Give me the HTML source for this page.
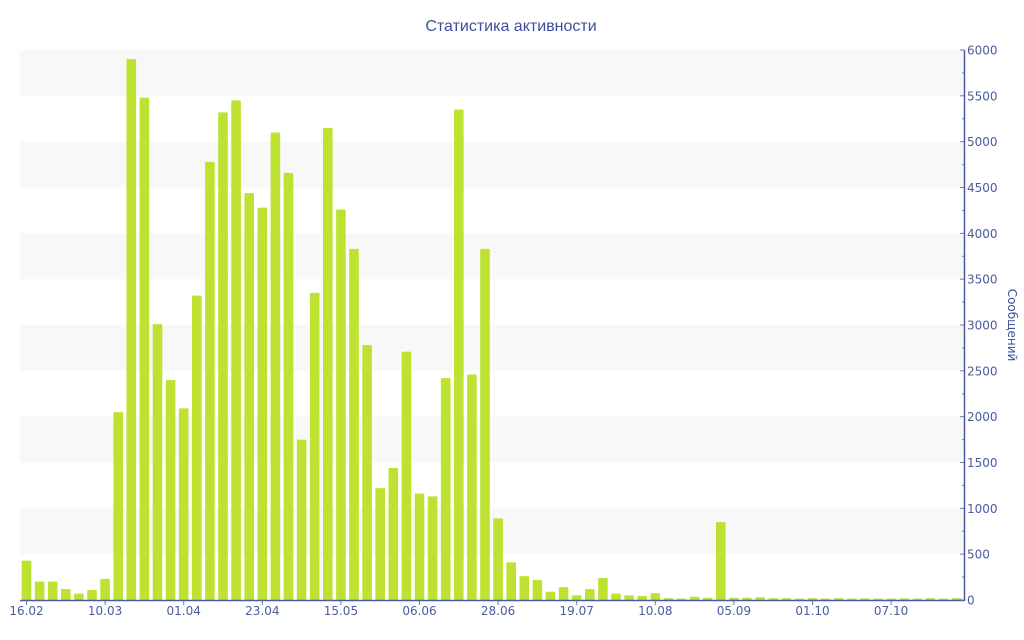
<!DOCTYPE html>
<html><head><meta charset="utf-8"><style>
html,body{margin:0;padding:0;background:#fff;}
svg{display:block;font-family:"Liberation Sans","DejaVu Sans",sans-serif;}
.t{font-family:"DejaVu Sans","Liberation Sans",sans-serif;}
</style></head><body>
<svg id="c" width="1024" height="640" viewBox="0 0 1024 640" xmlns="http://www.w3.org/2000/svg">
<text x="511" y="31" text-anchor="middle" font-size="16" fill="#3d4f9c">Статистика активности</text>
<text class="t" transform="translate(1008,325) rotate(90)" text-anchor="middle" font-size="12" fill="#3d4f9c">Сообщений</text>
</svg>
<script>
var s=document.getElementById('c'),ns='http://www.w3.org/2000/svg';
function el(t,a,txt){var e=document.createElementNS(ns,t);for(var k in a)e.setAttribute(k,a[k]);if(txt)e.textContent=txt;s.appendChild(e);return e;}
function Y(v){return 600-v*550/6000;}
for(var b=500;b<6000;b+=1000){el('rect',{x:20,y:Y(b+500),width:944,height:550/12,fill:'#f8f8f8'});}
var d=[430,200,200,120,70,110,230,2050,5900,5480,3010,2400,2090,3320,4780,5320,5450,4440,4280,5100,4660,1750,3350,5150,4260,3830,2780,1220,1440,2710,1160,1130,2420,5350,2460,3830,890,410,260,220,90,140,50,120,240,70,50,45,75,20,15,35,25,850,25,25,30,20,20,15,20,15,20,15,18,15,15,18,15,20,15,20];
for(var i=0;i<d.length;i++){var x=26.5+13.1*i;el('rect',{x:x-4.8,y:Y(d[i]),width:9.6,height:600-Y(d[i]),fill:'#bde232',rx:1});}
el('line',{x1:20,y1:600.5,x2:964,y2:600.5,stroke:'#4a5ca0','stroke-width':1.5});
el('line',{x1:964.5,y1:50,x2:964.5,y2:601,stroke:'#4a5ca0','stroke-width':1.5});
for(var v=0;v<=6000;v+=250){var y=Y(v);var maj=v%500==0;el('line',{x1:maj?960:962,y1:y,x2:964,y2:y,stroke:'#6a78b0'});if(maj)el('text',{'class':'t',x:967,y:y+4.5,'font-size':12,fill:'#4a5ca0'},String(v));}
var L=['16.02','10.03','01.04','23.04','15.05','06.06','28.06','19.07','10.08','05.09','01.10','07.10'];
for(var j=0;j<L.length;j++){var x=26.5+13.1*6*j;el('line',{x1:x,y1:601,x2:x,y2:605,stroke:'#6a78b0'});el('text',{'class':'t',x:x,y:615,'font-size':12,fill:'#4a5ca0','text-anchor':'middle'},L[j]);}
</script>
</body></html>
